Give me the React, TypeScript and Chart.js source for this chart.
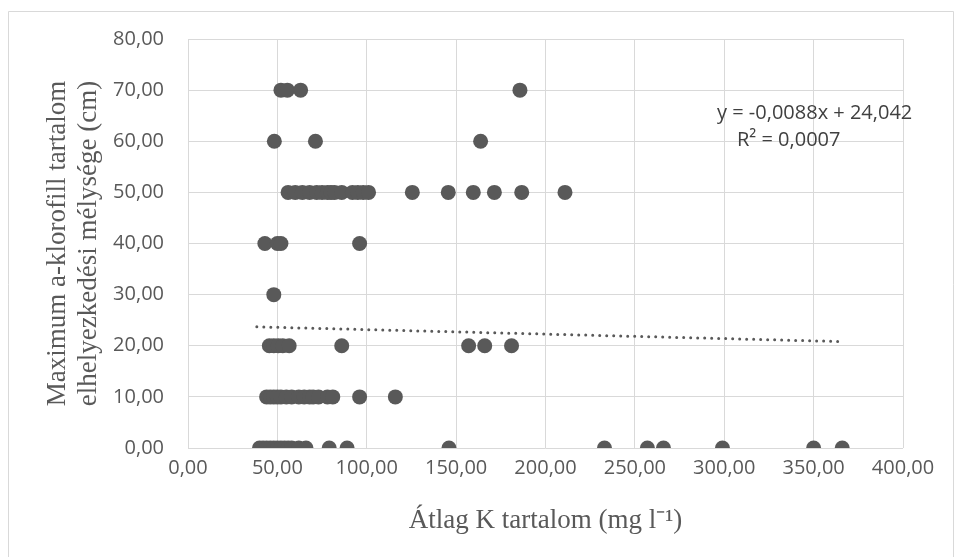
import React, { useEffect, useRef } from "react";
import { Chart, registerables } from "chart.js";

Chart.register(...registerables);

const row0 = [40, 42, 44, 46, 48, 50, 52, 54, 56, 58, 62, 66, 79, 89, 146, 233, 257, 266, 299, 350, 366];
const row10 = [44, 46, 48, 50, 52, 55, 58, 62, 65, 68, 70, 73, 78, 81, 96, 116];
const row20 = [45.5, 48, 50.5, 53, 56.6, 86, 157, 166, 181];
const row30 = [48];
const row40 = [43, 50, 52, 96];
const row50 = [56, 60, 64, 68, 72, 75, 78, 80, 82, 86, 92, 95, 98, 101, 125.5, 145.6, 159.6, 171.4, 186.7, 210.9];
const row60 = [48.3, 71.3, 163.7];
const row70 = [52, 55.6, 63, 185.7];

const rows: [number, number[]][] = [
  [0, row0], [10, row10], [20, row20], [30, row30],
  [40, row40], [50, row50], [60, row60], [70, row70],
];

const trendX = [38.5, 365];
const trendY = [23.70, 20.83];

const eqLine1 = "y = -0,0088x + 24,042";
const eqLine2 = "R² = 0,0007";
const xTitle = "Átlag K tartalom (mg l⁻¹)";
const yTitle = ["Maximum a-klorofill tartalom", "elhelyezkedési mélysége (cm)"];

const fmt = (v: number) => v.toFixed(2).replace(".", ",");

export default function App() {
  const ref = useRef<HTMLCanvasElement | null>(null);
  useEffect(() => {
    if (!ref.current) return;
    const points = rows.flatMap(([y, xs]) => xs.map((x) => ({ x, y })));
    const trend = trendX.map((x, i) => ({ x, y: trendY[i] }));
    const frame = {
      id: "frame",
      beforeDraw(chart: any) {
        const ctx = chart.ctx;
        ctx.save();
        ctx.fillStyle = "#ffffff";
        ctx.fillRect(0, 0, chart.width, chart.height);
        ctx.strokeStyle = "#d9d9d9";
        ctx.lineWidth = 1;
        ctx.beginPath();
        ctx.moveTo(8.5, 557);
        ctx.lineTo(8.5, 11.5);
        ctx.lineTo(953.5, 11.5);
        ctx.lineTo(953.5, 557);
        ctx.stroke();
        ctx.restore();
      },
      afterDatasetsDraw(chart: any) {
        const ctx = chart.ctx;
        ctx.save();
        ctx.fillStyle = "#404040";
        ctx.font = "20px 'Open Sans'";
        ctx.textBaseline = "middle";
        ctx.textAlign = "left";
        ctx.fillText(eqLine1, 717, 113);
        ctx.fillText(eqLine2, 737, 140);
        ctx.restore();
      },
    };
    const chart = new Chart(ref.current, {
      type: "scatter",
      data: {
        datasets: [
          {
            data: trend,
            showLine: true,
            borderColor: "#595959",
            borderWidth: 3,
            borderDash: [0, 7],
            borderCapStyle: "round",
            pointRadius: 0,
            order: 2,
          } as any,
          {
            data: points,
            backgroundColor: "#595959",
            borderColor: "#595959",
            pointRadius: 7.5,
            borderWidth: 0,
            order: 1,
          },
        ],
      },
      options: {
        animation: false,
        responsive: false,
        maintainAspectRatio: false,
        layout: { padding: { left: 42, right: 51, top: 39, bottom: 21 } },
        plugins: { legend: { display: false }, tooltip: { enabled: false } },
        scales: {
          x: {
            type: "linear",
            min: 0,
            max: 400,
            afterFit: (s: any) => { s.height = 88; },
            grid: { color: "#d9d9d9", drawTicks: false, lineWidth: 1 },
            border: { display: false },
            ticks: {
              stepSize: 50,
              padding: 8,
              color: "#595959",
              font: { family: "'Open Sans'", size: 20 },
              callback: (v: any) => fmt(Number(v)),
            },
            title: {
              display: true,
              text: xTitle,
              color: "#595959",
              padding: 0,
              font: { family: "'Liberation Serif'", size: 27, lineHeight: 1.15 },
            },
          },
          y: {
            type: "linear",
            min: 0,
            max: 80,
            afterFit: (s: any) => { s.width = 146; },
            grid: { color: "#d9d9d9", drawTicks: false, lineWidth: 1 },
            border: { display: false },
            ticks: {
              stepSize: 10,
              padding: 24,
              color: "#595959",
              font: { family: "'Open Sans'", size: 20 },
              callback: (v: any) => fmt(Number(v)),
            },
            title: {
              display: true,
              text: yTitle,
              color: "#595959",
              padding: 0,
              font: { family: "'Liberation Serif'", size: 27, lineHeight: 1.15 },
            },
          },
        },
      },
      plugins: [frame],
    });
    return () => chart.destroy();
  }, []);
  return (
    <div style={{ position: "absolute", left: 0, top: 0, width: 954, height: 557 }}>
      <canvas ref={ref} width={954} height={557} style={{ width: 954, height: 557, display: "block" }} />
    </div>
  );
}
